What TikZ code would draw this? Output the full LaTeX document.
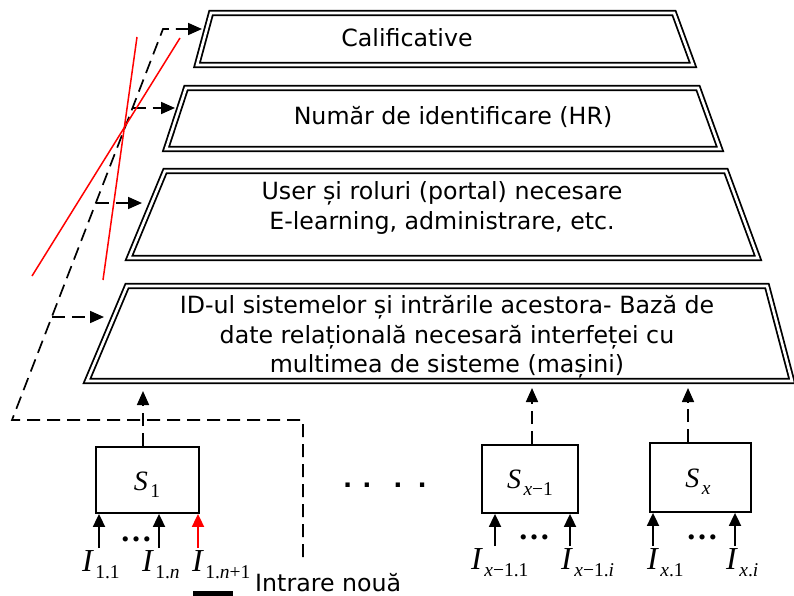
\documentclass[tikz,border=0pt]{standalone}
\usepackage{fontspec}
\setmainfont{DejaVu Sans}
\newfontfamily\tms{Liberation Serif}
\usetikzlibrary{arrows.meta}

% level text size
\newcommand\lvlfont{\fontsize{23.7}{29.5}\selectfont}
% italic symbol with a lowered subscript: size, symbol, subscript
\newcommand\Sym[3]{{\fontsize{#1}{#1}\selectfont\tms\itshape #2}\kern2.5pt\raisebox{-7pt}{\fontsize{19.5}{19.5}\selectfont\tms #3}}
\newcommand\iv[1]{\textit{#1}}

\begin{document}
\begin{tikzpicture}[x=1pt,y=-1pt,
  lvl/.style={draw, double, line width=1.8pt, double distance=2.6pt, line join=miter},
  lbl/.style={font=\lvlfont, inner sep=0pt, align=center},
  dsh/.style={dash pattern=on 13pt off 7pt, line width=1.7pt},
  tip/.style={-{Triangle[length=14pt,width=12pt]}},
  sysbox/.style={draw, line width=1.8pt, inner sep=0pt},
  inp/.style={line width=1.8pt, -{Triangle[length=13pt,width=12pt]}},
  sym/.style={inner sep=0pt},
  cross/.style={red, line width=1.5pt}]

\useasboundingbox (0,0) rectangle (794,596);

% the four levels
\draw[lvl] (211,13) -- (674,13) -- (693,65) -- (197,65) -- cycle;
\draw[lvl] (186,88) -- (698,88) -- (720,149) -- (166,149) -- cycle;
\draw[lvl] (165,171) -- (726,171) -- (758,258) -- (129,258) -- cycle;
\draw[lvl] (127,286) -- (767,286) -- (792,381) -- (87,381) -- cycle;

\node[lbl, anchor=base] (cal) at (407,47) {Calificative};
\node[lbl, anchor=base] (nr) at (453,125) {Număr de identificare (HR)};
\node[lbl] (usr) at (442,208) {User și roluri (portal) necesare\\E-learning, administrare, etc.};
\node[lbl] (idb) at (447,337) {ID-ul sistemelor și intrările acestora- Bază de\\date relațională necesară interfeței cu\\multimea de sisteme (mașini)};

% entry points on the left edges
\coordinate (e1) at (202,29);
\coordinate (e2) at (175,108);
\coordinate (e3) at (142,203);
\coordinate (e4) at (104,317);

% feedback route of the new input
\coordinate (c0) at (303,557);
\coordinate (c1) at (303,420);
\coordinate (c2) at (12,420);
\coordinate (c3) at (163,29);
\coordinate (b2) at (132.5,108);
\coordinate (b3) at (95.8,203);
\coordinate (b4) at (51.8,317);
\draw[dsh, tip] (c0) -- (c1) -- (c2) -- (c3) -- (e1);
\draw[dsh, tip] (b2) -- (e2);
\draw[dsh, tip] (b3) -- (e3);
\draw[dsh, tip] (b4) -- (e4);

% crossed-out lines
\coordinate (r1a) at (137,37);
\coordinate (r1b) at (103,280);
\coordinate (r2a) at (180,38);
\coordinate (r2b) at (32,276);
\draw[cross] (r1a) -- (r1b);
\draw[cross] (r2a) -- (r2b);

% systems
\node[sysbox, minimum width=103pt, minimum height=66pt] (s1) at (147.5,480) {};
\node[sysbox, minimum width=96pt, minimum height=68pt] (sx1) at (530,479) {};
\node[sysbox, minimum width=101pt, minimum height=69pt] (sx) at (700.5,477.5) {};

\node[sym, anchor=base] (s1t) at (147,490) {\Sym{28}{S}{1}};
\node[sym, anchor=base] (sx1t) at (530,488) {\Sym{28}{S}{\iv{x}−1}};
\node[sym, anchor=base] (sxt) at (698,487) {\Sym{28}{S}{\iv{x}}};

% systems feeding the database level
\coordinate (u1) at (143,391);
\coordinate (u2) at (532,388);
\coordinate (u3) at (688,388);
\draw[dsh, tip] (s1.north -| u1) -- (u1);
\draw[dsh, tip] (sx1.north -| u2) -- (u2);
\draw[dsh, tip] (sx.north -| u3) -- (u3);

% inputs of S1
\coordinate (i1) at (99,548);
\coordinate (i2) at (159,548);
\coordinate (i3) at (198,548);
\draw[inp] (i1) -- (i1 |- s1.south);
\draw[inp] (i2) -- (i2 |- s1.south);
\draw[inp, red] (i3) -- (i3 |- s1.south);

% inputs of S(x-1)
\coordinate (i4) at (495,546);
\coordinate (i5) at (570,546);
\draw[inp] (i4) -- (i4 |- sx1.south);
\draw[inp] (i5) -- (i5 |- sx1.south);

% inputs of Sx
\coordinate (i6) at (653,546);
\coordinate (i7) at (735,546);
\draw[inp] (i6) -- (i6 |- sx.south);
\draw[inp] (i7) -- (i7 |- sx.south);

% ellipses between inputs
\node[sym] (d1) at (136,539) {\fontsize{32}{32}\selectfont\tms\bfseries …};
\node[sym] (d2) at (534,537) {\fontsize{32}{32}\selectfont\tms\bfseries …};
\node[sym] (d3) at (702,537) {\fontsize{32}{32}\selectfont\tms\bfseries …};
\node[sym, anchor=base west] (dm) at (343,487) {\fontsize{24}{24}\selectfont\bfseries .\kern10pt.\kern22pt.\kern15pt.};

% input labels
\node[sym, anchor=base west] (l1) at (82,571) {\Sym{32}{I}{1.1}};
\node[sym, anchor=base west] (l2) at (142,571) {\Sym{32}{I}{1.\iv{n}}};
\node[sym, anchor=base west] (l3) at (192,571) {\Sym{32}{I}{1.\iv{n}+1}};
\node[sym, anchor=base west] (l4) at (471,569) {\Sym{32}{I}{\iv{x}−1.1}};
\node[sym, anchor=base west] (l5) at (561,569) {\Sym{32}{I}{\iv{x}−1.\iv{i}}};
\node[sym, anchor=base west] (l6) at (647,569) {\Sym{32}{I}{\iv{x}.1}};
\node[sym, anchor=base west] (l7) at (726,569) {\Sym{32}{I}{\iv{x}.\iv{i}}};

% legend
\node[sym, fill=black, minimum width=40pt, minimum height=5pt, anchor=north west] (key) at (193,591) {};
\node[lbl, anchor=base west] (keyt) at (255,591) {Intrare nouă};

\end{tikzpicture}
\end{document}
